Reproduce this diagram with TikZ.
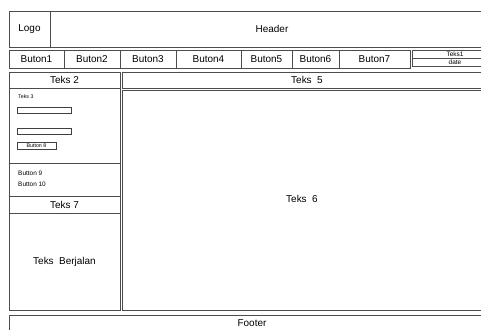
\documentclass[tikz,border=0pt]{standalone}
\usepackage{fontspec}
\setmainfont{Liberation Sans}
\begin{document}
\begin{tikzpicture}[x=0.03cm,y=-0.03cm,
  box/.style={draw=black!70,line width=0.8pt},
  thin box/.style={draw=black!75,line width=0.6pt},
  lbl/.style={inner sep=0pt,font=\fontsize{8.5}{10}\selectfont},
  small/.style={inner sep=0pt,font=\fontsize{5.5}{6}\selectfont},
  tiny/.style={inner sep=0pt,font=\fontsize{4.5}{5}\selectfont}]
\useasboundingbox (0,0) rectangle (481,329);
\clip (0,0) rectangle (481,329);
% header
\draw[box] (9,11) rectangle (495,47);
\draw[box] (50,11) -- (50,47);
\node[lbl] (logo) at (29.5,29) {Logo};
\node[lbl] (header) at (272,29) {Header};
% menu
\draw[box] (9,50) rectangle (410,68);
\foreach \x in {64,120,176,241,292,339} \draw[box] (\x,50) -- (\x,68);
\node[lbl] (b1) at (36.5,59.5) {Buton1};
\node[lbl] (b2) at (92,59.5) {Buton2};
\node[lbl] (b3) at (148,59.5) {Buton3};
\node[lbl] (b4) at (208.5,59.5) {Buton4};
\node[lbl] (b5) at (266.5,59.5) {Buton5};
\node[lbl] (b6) at (315.5,59.5) {Buton6};
\node[lbl] (b7) at (374.5,59.5) {Buton7};
\draw[box] (412,50) rectangle (500,66);
\draw[box] (412,58.5) -- (500,58.5);
\node[small] (teks1) at (455,54.5) {Teks1};
\node[small] (date) at (455,62.5) {date};
% left column
\draw[box] (9,72) rectangle (120,310);
\foreach \y in {88,163,196,213} \draw[box] (9,\y) -- (120,\y);
\node[lbl] (t2) at (64.5,80) {Teks 2};
\node[tiny,anchor=west] (t3) at (18,97) {Teks 3};
\draw[thin box] (17,107) rectangle (71,113);
\draw[thin box] (17,128) rectangle (71,134);
\draw[thin box] (17,142) rectangle (56,149);
\node[tiny] (b8) at (36.5,145.5) {Button 8};
\node[small,anchor=west] (b9) at (18,173) {Button 9};
\node[small,anchor=west] (b10) at (18,184) {Button 10};
\node[lbl] (t7) at (64.5,204.5) {Teks 7};
\node[lbl] (berjalan) at (64.5,262) {Teks\ \ Berjalan};
% right column
\draw[box] (122,72) rectangle (495,88);
\node[lbl] (t5) at (307,80) {Teks\ \ 5};
\draw[box] (122,90) rectangle (495,310);
\node[lbl] (t6) at (302,199) {Teks\ \ 6};
% footer
\draw[box] (9,315) rectangle (495,345);
\node[lbl] (footer) at (252,323.5) {Footer};
\end{tikzpicture}
\end{document}
